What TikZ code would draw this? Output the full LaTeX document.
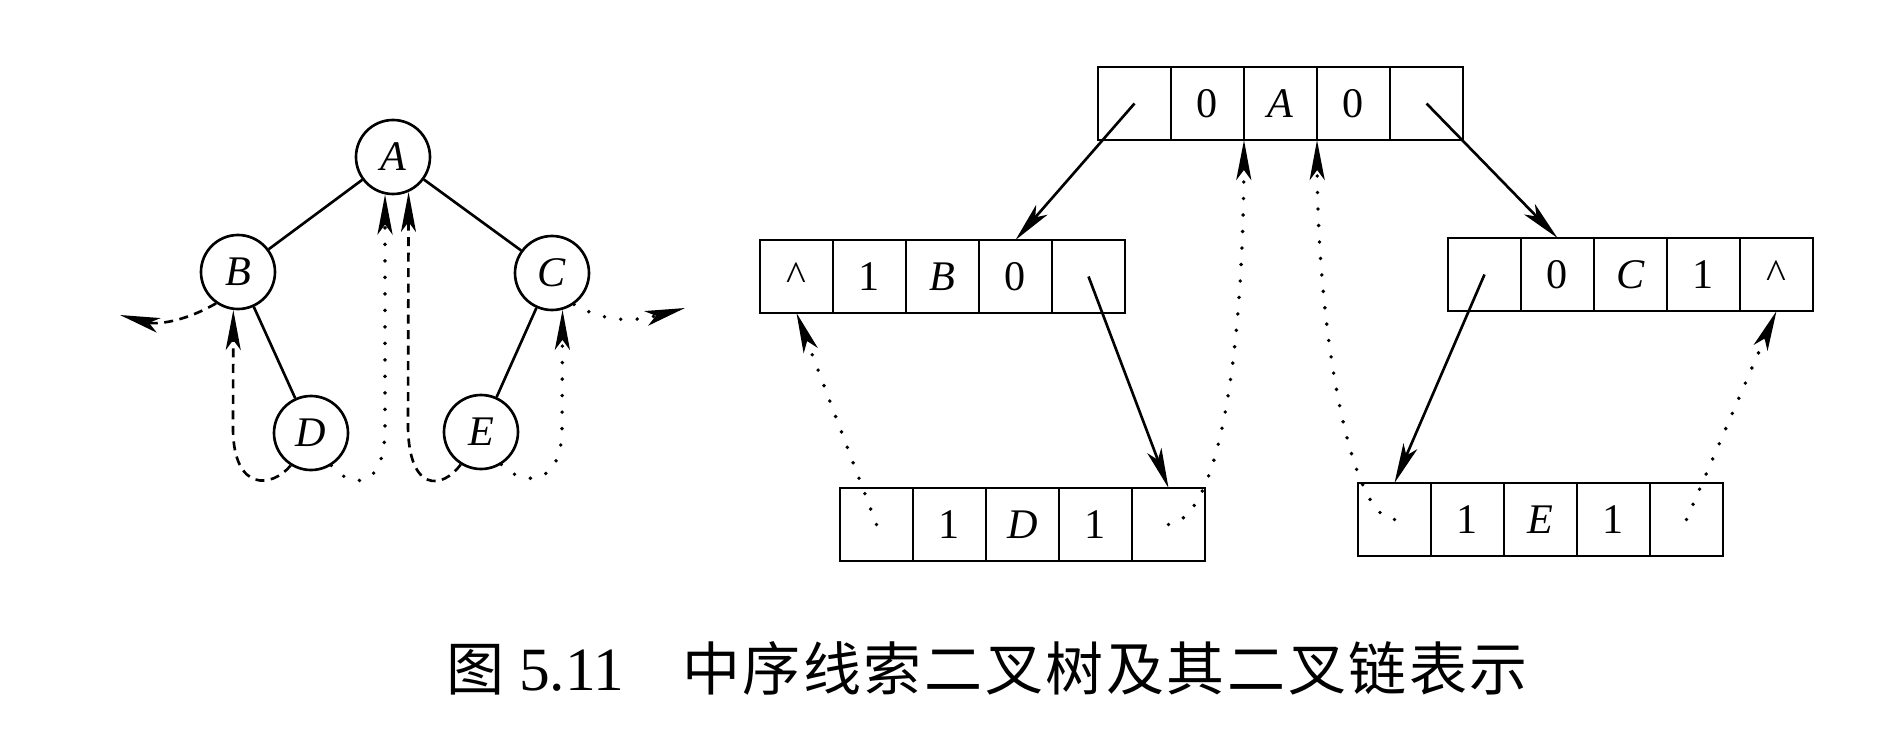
\documentclass[tikz,border=0pt]{standalone}
\usepackage{fontspec}
\setmainfont{Liberation Serif}
\newfontfamily\cjk[LetterSpace=4.5]{Noto Sans CJK SC}
\usepackage{tikz}
\usetikzlibrary{arrows.meta, positioning}

\begin{document}
\begin{tikzpicture}[
  x=0.2mm, y=-0.2mm,
  font=\fontsize{24}{28}\selectfont,
  node distance=0pt,
  tnode/.style={circle, draw, line width=1.5pt, minimum size=14.8mm,
                inner sep=0pt},
  cell/.style={rectangle, draw, line width=1.5pt, minimum width=14.6mm,
               minimum height=14.6mm, inner sep=0pt, outer sep=0pt},
  branch/.style={line width=1.5pt},
  ptr/.style={line width=1.5pt, -{Stealth[length=8mm, width=3mm, inset=2mm]}},
  dthread/.style={ptr, dash pattern=on 1.8mm off 1.3mm},
  othread/.style={ptr, line cap=round, dash pattern=on 0pt off 3.3mm,
                  line width=2.2pt},
]
\useasboundingbox (0,0) rectangle (1904,734);

% Threaded binary tree
\node[tnode] (A) at (393,157) {\textit{A}};
\node[tnode] (B) at (238,272) {\textit{B}};
\node[tnode] (C) at (552,273) {\textit{C}};
\node[tnode] (D) at (311,433) {\textit{D}};
\node[tnode] (E) at (481,432) {\textit{E}};

\draw[branch] (A) -- (B);
\draw[branch] (A) -- (C);
\draw[branch] (B) -- (D);
\draw[branch] (C) -- (E);

\coordinate (lnull) at (120,315);
\coordinate (rnull) at (685,308);

% Threads
\draw[dthread] (B.-125) to[out=-150, in=-15] (lnull);
\draw[othread] (C.-55) to[out=-30, in=195] (rnull);
\draw[dthread] (D.238) .. controls (272,488) and (234,492) .. (233,430) -- (B.-97);
\draw[othread] (D.-58) .. controls (350,488) and (384,492) .. (385,430) -- (A.-102);
\draw[dthread] (E.238) .. controls (442,490) and (409,492) .. (408,427) -- (A.-66);
\draw[othread] (E.-58) .. controls (522,486) and (561,488) .. (562,430) -- (C.-74);

% Binary linked list, root record
\node[cell, anchor=north west] (a1) at (1098,67) {};
\node[cell, right=of a1] (a2) {0};
\node[cell, right=of a2] (a3) {\textit{A}};
\node[cell, right=of a3] (a4) {0};
\node[cell, right=of a4] (a5) {};

% B record
\node[cell, anchor=north west] (b1) at (760,240) {\textasciicircum};
\node[cell, right=of b1] (b2) {1};
\node[cell, right=of b2] (b3) {\textit{B}};
\node[cell, right=of b3] (b4) {0};
\node[cell, right=of b4] (b5) {};

% C record
\node[cell, anchor=north west] (c1) at (1448,238) {};
\node[cell, right=of c1] (c2) {0};
\node[cell, right=of c2] (c3) {\textit{C}};
\node[cell, right=of c3] (c4) {1};
\node[cell, right=of c4] (c5) {\textasciicircum};

% D record
\node[cell, anchor=north west] (d1) at (840,488) {};
\node[cell, right=of d1] (d2) {1};
\node[cell, right=of d2] (d3) {\textit{D}};
\node[cell, right=of d3] (d4) {1};
\node[cell, right=of d4] (d5) {};

% E record
\node[cell, anchor=north west] (e1) at (1358,483) {};
\node[cell, right=of e1] (e2) {1};
\node[cell, right=of e2] (e3) {\textit{E}};
\node[cell, right=of e3] (e4) {1};
\node[cell, right=of e4] (e5) {};

% Child pointers
\draw[ptr] (a1.center) -- (b4.north);
\draw[ptr] (a5.center) -- (c2.north);
\draw[ptr] (b5.center) -- (d5.north);
\draw[ptr] (c1.center) -- (e1.north);

% Thread pointers
\draw[othread] (d1.center) -- (b1.south);
\draw[othread] (d5.center) .. controls (1222,518) and (1243,340) .. (a3.south west);
\draw[othread] (e1.center) .. controls (1352,520) and (1318,340) .. (a4.south west);
\draw[othread] (e5.center) -- (c5.south);

% Caption
\node[anchor=base west] (fignum) at (440,690)
  {\fontsize{33}{40}\selectfont{\cjk 图}\hspace{3mm}{\fontsize{35}{40}\selectfont 5.11}};
\node[anchor=base west] (title) at (676,690)
  {\fontsize{33}{40}\selectfont\cjk 中序线索二叉树及其二叉链表示};

\end{tikzpicture}
\end{document}
